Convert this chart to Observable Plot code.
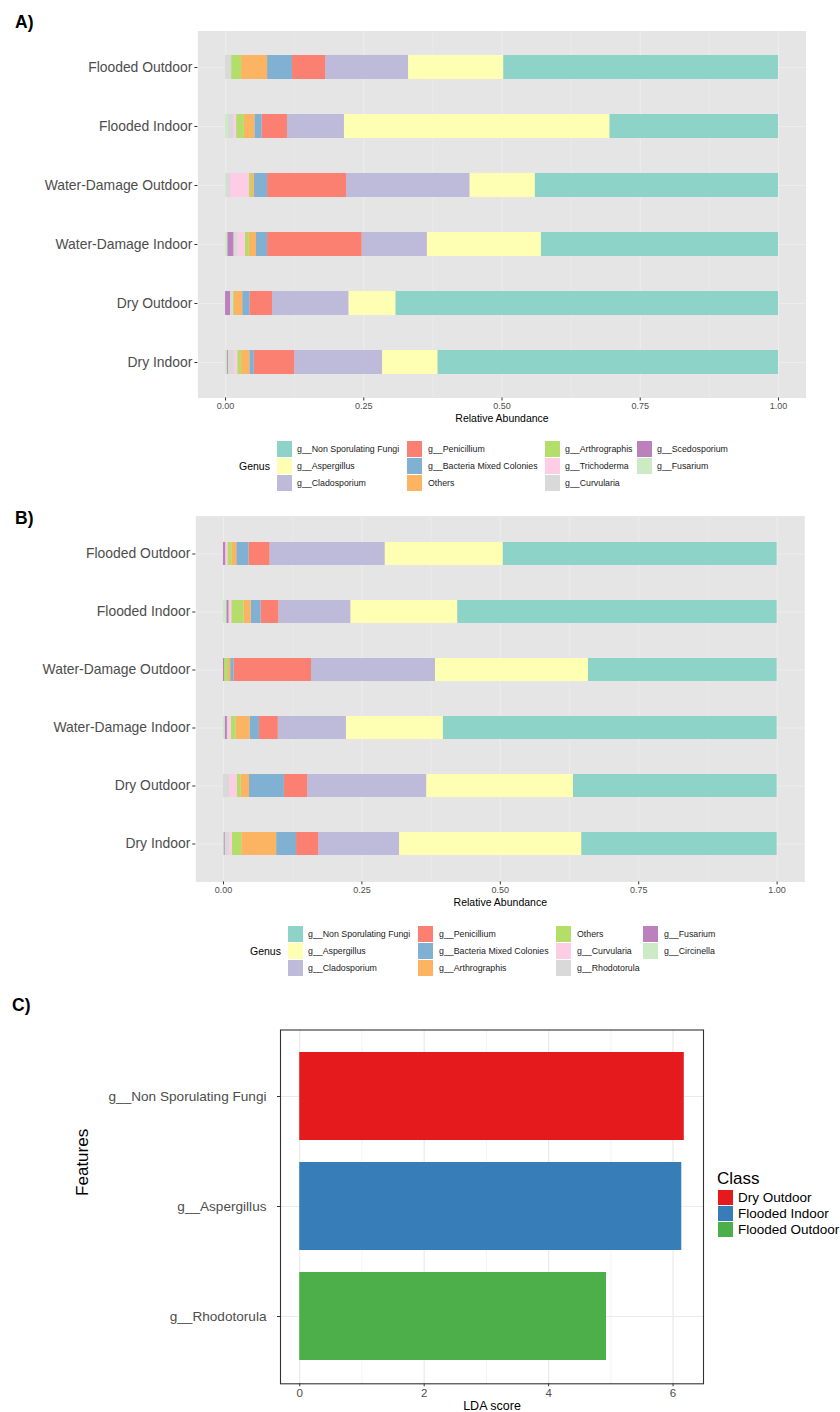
<!DOCTYPE html>
<html>
<head>
<meta charset="utf-8">
<script src="https://cdn.jsdelivr.net/npm/d3@7"></script>
<script src="https://cdn.jsdelivr.net/npm/@observablehq/plot@0.6"></script>
<style>
  html, body { margin: 0; padding: 0; background: #fff; }
  #root { position: relative; width: 840px; height: 1412px; overflow: hidden; font-family: "Liberation Sans", Arial, sans-serif; }
  .chart { position: absolute; left: 0; }
  #overlay { position: absolute; left: 0; top: 0; pointer-events: none; }
</style>
</head>
<body>
<div id="root"></div>
<script>
// ---------------- DATA ----------------
const categories = ["Flooded Outdoor", "Flooded Indoor", "Water-Damage Outdoor", "Water-Damage Indoor", "Dry Outdoor", "Dry Indoor"];

// Panel A genera (legend order) and colours
const generaA = ["g__Non Sporulating Fungi", "g__Aspergillus", "g__Cladosporium", "g__Penicillium", "g__Bacteria Mixed Colonies", "Others", "g__Arthrographis", "g__Trichoderma", "g__Curvularia", "g__Scedosporium", "g__Fusarium"];
const colorsA = ["#8DD3C7", "#FFFFB3", "#BEBADA", "#FB8072", "#80B1D3", "#FDB462", "#B3DE69", "#FCCDE5", "#D9D9D9", "#BC80BD", "#CCEBC5"];
// relative abundance per category, in generaA order
const A_floodedOutdoor = [0.497, 0.172, 0.150, 0.060, 0.045, 0.047, 0.018, 0.000, 0.011, 0.000, 0.000];
const A_floodedIndoor  = [0.305, 0.480, 0.103, 0.046, 0.013, 0.019, 0.014, 0.005, 0.010, 0.000, 0.005];
const A_wdOutdoor      = [0.440, 0.118, 0.223, 0.143, 0.024, 0.005, 0.004, 0.034, 0.007, 0.000, 0.002];
const A_wdIndoor       = [0.429, 0.206, 0.118, 0.171, 0.020, 0.013, 0.007, 0.014, 0.007, 0.011, 0.004];
const A_dryOutdoor     = [0.692, 0.085, 0.138, 0.041, 0.013, 0.015, 0.002, 0.000, 0.005, 0.009, 0.000];
const A_dryIndoor      = [0.616, 0.100, 0.159, 0.073, 0.008, 0.015, 0.007, 0.006, 0.011, 0.002, 0.003];

// Panel B genera (legend order) and colours
const generaB = ["g__Non Sporulating Fungi", "g__Aspergillus", "g__Cladosporium", "g__Penicillium", "g__Bacteria Mixed Colonies", "g__Arthrographis", "Others", "g__Curvularia", "g__Rhodotorula", "g__Fusarium", "g__Circinella"];
const colorsB = ["#8DD3C7", "#FFFFB3", "#BEBADA", "#FB8072", "#80B1D3", "#FDB462", "#B3DE69", "#FCCDE5", "#D9D9D9", "#BC80BD", "#CCEBC5"];
const B_floodedOutdoor = [0.495, 0.213, 0.208, 0.038, 0.022, 0.009, 0.007, 0.004, 0.000, 0.004, 0.000];
const B_floodedIndoor  = [0.577, 0.193, 0.130, 0.032, 0.018, 0.013, 0.022, 0.005, 0.000, 0.004, 0.006];
const B_wdOutdoor      = [0.341, 0.276, 0.224, 0.140, 0.006, 0.004, 0.007, 0.000, 0.000, 0.002, 0.000];
const B_wdIndoor       = [0.603, 0.175, 0.123, 0.034, 0.017, 0.025, 0.009, 0.005, 0.002, 0.004, 0.003];
const B_dryOutdoor     = [0.368, 0.265, 0.215, 0.042, 0.063, 0.015, 0.007, 0.014, 0.011, 0.000, 0.000];
const B_dryIndoor      = [0.353, 0.329, 0.146, 0.040, 0.036, 0.063, 0.017, 0.005, 0.008, 0.002, 0.001];

const xTicksAB = [0, 0.25, 0.5, 0.75, 1];
const xMinorAB = [0.125, 0.375, 0.625, 0.875];

// Panel C
const featuresC = ["g__Non Sporulating Fungi", "g__Aspergillus", "g__Rhodotorula"];
const ldaC = [6.18, 6.14, 4.93];
const classC = ["Dry Outdoor", "Flooded Indoor", "Flooded Outdoor"];
const colorsC = ["#E41A1C", "#377EB8", "#4DAF4A"];
const xTicksC = [0, 2, 4, 6];
const xMinorC = [1, 3, 5];

// ---------------- BUILD ----------------
const FONT = "'Liberation Sans', Arial, sans-serif";
const root = document.getElementById("root");

function tidy(rows, genera) {
  const out = [];
  categories.forEach((c, i) => genera.forEach((g, j) => {
    if (rows[i][j] > 0) out.push({cat: c, genus: g, value: rows[i][j]});
  }));
  return out;
}

function stackedPanel(data, genera, colors, opts) {
  const order = genera.slice().reverse();
  return Plot.plot({
    width: 840,
    height: opts.height,
    marginLeft: opts.left,
    marginRight: 840 - opts.right,
    marginTop: opts.top,
    marginBottom: opts.height - opts.bottom,
    style: {fontFamily: FONT, background: "transparent", overflow: "visible"},
    x: {domain: [-0.05, 1.05]},
    y: {domain: categories, paddingInner: 0.6, paddingOuter: 0.4},
    color: {domain: genera, range: colors},
    marks: [
      Plot.frame({fill: "#E5E5E5", stroke: "none"}),
      Plot.gridX({ticks: xMinorAB, stroke: "#ECECEC", strokeOpacity: 1, strokeWidth: 0.6}),
      Plot.gridX({ticks: xTicksAB, stroke: "#EDEDED", strokeOpacity: 1, strokeWidth: 1.1}),
      Plot.gridY({stroke: "#EDEDED", strokeOpacity: 1, strokeWidth: 1.1}),
      Plot.barX(data, Plot.stackX({x: "value", y: "cat", fill: "genus", order})),
      Plot.axisX({ticks: xTicksAB, tickFormat: d3.format(".2f"), tickSize: 3, tickPadding: 2, fontSize: 9, fill: "#4D4D4D", stroke: "#333333", label: null}),
      Plot.axisY({tickSize: 3, tickPadding: 2.5, fontSize: 13.9, fill: "#4D4D4D", stroke: "#333333", label: null}),
      Plot.text(["Relative Abundance"], {frameAnchor: "bottom", dy: 20.5, fontSize: 10.5, fill: "black", lineAnchor: "middle"})
    ]
  });
}

// Panel A
const chartA = stackedPanel(
  tidy([A_floodedOutdoor, A_floodedIndoor, A_wdOutdoor, A_wdIndoor, A_dryOutdoor, A_dryIndoor], generaA),
  generaA, colorsA, {height: 430, left: 197.4, right: 805.6, top: 30.5, bottom: 397.5});
chartA.classList.add("chart");
chartA.style.top = "0px";
root.appendChild(chartA);

// Panel B (page offset 485)
const offB = 485;
const chartB = stackedPanel(
  tidy([B_floodedOutdoor, B_floodedIndoor, B_wdOutdoor, B_wdIndoor, B_dryOutdoor, B_dryIndoor], generaB),
  generaB, colorsB, {height: 430, left: 195.3, right: 804.3, top: 515.6 - offB, bottom: 881.4 - offB});
chartB.classList.add("chart");
chartB.style.top = offB + "px";
root.appendChild(chartB);

// Panel C (page offset 990)
const offC = 990;
const dataC = featuresC.map((f, i) => ({feature: f, lda: ldaC[i], cls: classC[i]}));
const chartC = Plot.plot({
  width: 840,
  height: 422,
  marginLeft: 280,
  marginRight: 840 - 703,
  marginTop: 1029.5 - offC,
  marginBottom: 422 - (1383.3 - offC),
  style: {fontFamily: FONT, background: "transparent", overflow: "visible"},
  x: {domain: [-0.309, 6.489]},
  y: {domain: featuresC, paddingInner: 0.2, paddingOuter: 0.2},
  color: {domain: classC, range: colorsC},
  marks: [
    Plot.gridX({ticks: xMinorC, stroke: "#F0F0F0", strokeOpacity: 1, strokeWidth: 0.8}),
    Plot.gridX({ticks: xTicksC, stroke: "#EBEBEB", strokeOpacity: 1, strokeWidth: 1.2}),
    Plot.gridY({stroke: "#EBEBEB", strokeOpacity: 1, strokeWidth: 1.2}),
    Plot.barX(dataC, {x1: 0, x2: "lda", y: "feature", fill: "cls"}),
    Plot.frame({stroke: "#333333", strokeWidth: 1.1}),
    Plot.axisX({ticks: xTicksC, tickFormat: d => d, tickSize: 3, tickPadding: 2, fontSize: 11.5, fill: "#4D4D4D", stroke: "#333333", label: null}),
    Plot.axisY({tickSize: 3, tickPadding: 11, fontSize: 13.6, fill: "#4D4D4D", stroke: "#333333", label: null}),
    Plot.text(["LDA score"], {frameAnchor: "bottom", dy: 21.7, fontSize: 12.5, fill: "black", lineAnchor: "middle"}),
    Plot.text(["Features"], {frameAnchor: "left", dx: -198, dy: -11, rotate: -90, fontSize: 17, fill: "black", lineAnchor: "middle"})
  ]
});
chartC.classList.add("chart");
chartC.style.top = offC + "px";
root.appendChild(chartC);

// ---------------- OVERLAY: panel letters and legends ----------------
const svg = d3.select(root).append("svg")
  .attr("id", "overlay").attr("width", 840).attr("height", 1412)
  .style("font-family", FONT);

[["A)", 15, 28], ["B)", 15, 524], ["C)", 12, 1011]].forEach(([t, x, y]) => {
  svg.append("text").attr("x", x).attr("y", y).attr("font-size", 17.5).attr("font-weight", "bold").attr("fill", "#000").text(t);
});

function genusLegend({titleX, titleY, boxX, labelX, rowY, genera, colors}) {
  const g = svg.append("g");
  g.append("text").attr("x", titleX).attr("y", titleY).attr("dominant-baseline", "central")
    .attr("font-size", 10.5).attr("fill", "#000").text("Genus");
  genera.forEach((name, i) => {
    const col = Math.floor(i / 3), row = i % 3;
    g.append("rect").attr("x", boxX[col]).attr("y", rowY[row]).attr("width", 15).attr("height", 16).attr("fill", colors[i]);
    g.append("text").attr("x", labelX[col]).attr("y", rowY[row] + 8).attr("dominant-baseline", "central")
      .attr("font-size", 8.8).attr("fill", "#1a1a1a").text(name);
  });
}

genusLegend({titleX: 239, titleY: 466, boxX: [277, 407, 545, 637], labelX: [297, 428, 565, 657], rowY: [441, 458, 475], genera: generaA, colors: colorsA});
genusLegend({titleX: 250, titleY: 951, boxX: [288, 418, 556, 643], labelX: [308, 439, 577, 664], rowY: [926, 943, 960], genera: generaB, colors: colorsB});

// Class legend for panel C
const gc = svg.append("g");
gc.append("text").attr("x", 717).attr("y", 1178).attr("dominant-baseline", "central").attr("font-size", 17).attr("fill", "#000").text("Class");
classC.forEach((c, i) => {
  const y = 1190 + i * 16;
  gc.append("rect").attr("x", 718).attr("y", y).attr("width", 15).attr("height", 15).attr("fill", colorsC[i]);
  gc.append("text").attr("x", 738).attr("y", y + 7.5).attr("dominant-baseline", "central").attr("font-size", 13.5).attr("fill", "#000").text(c);
});
</script>
</body>
</html>
